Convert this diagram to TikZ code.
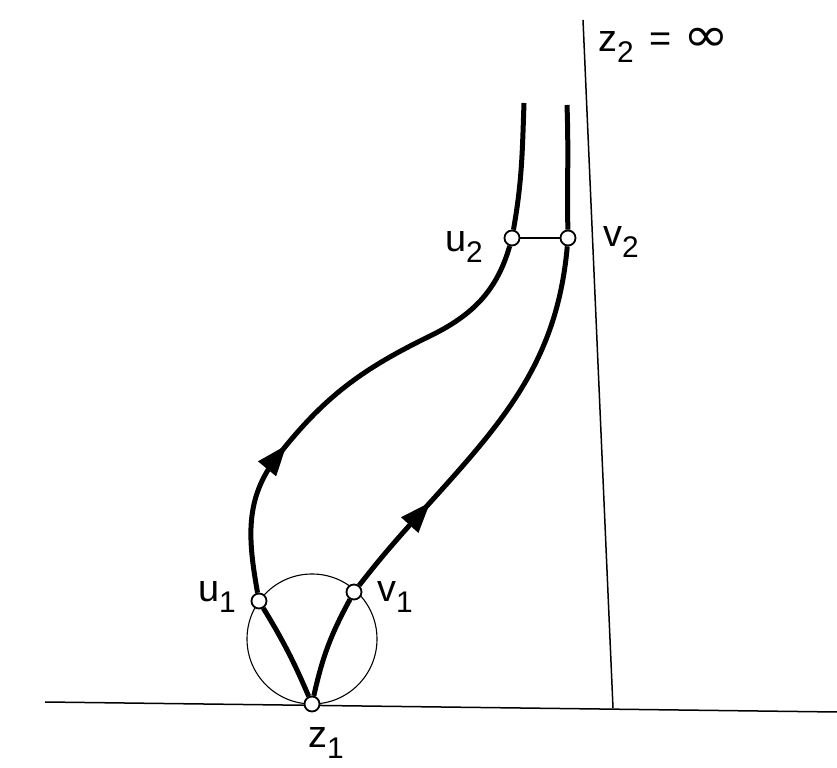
\documentclass[tikz,border=0pt]{standalone}
\usepackage{fontspec}
\setmainfont{Liberation Sans}
\newfontfamily\infont{DejaVu Sans}
\usepackage{tikz}
\usetikzlibrary{arrows.meta, positioning, decorations.markings}

\newcommand{\lowidx}[1]{\raisebox{-11bp}{\fontsize{30}{30}\selectfont #1}}

\begin{document}
\begin{tikzpicture}[x=1bp, y=1bp, font=\fontsize{38}{44}\selectfont,
    pt/.style={circle, draw, fill=white, line width=1.8bp, inner sep=0pt, minimum size=15bp},
    lbl/.style={inner sep=0pt},
    axis/.style={line width=1.5bp},
    thick path/.style={line width=5bp},
    fwd/.style={postaction={decorate}, decoration={markings,
        mark=at position #1 with {\arrow{Triangle[length=31bp,width=22bp]}}}}]
  \useasboundingbox (0,0) rectangle (837,768);

  % ---------- eixos e circulo ----------
  \draw[axis] (45,66) -- (837,56);
  \draw[axis] (583,748) -- (613,60);
  \draw[line width=1.1bp] (312,129) circle[radius=65bp];

  % ---------- pontos ----------
  \node[pt] (z1) at (312,64) {};
  \node[pt] (u1) at (259,167) {};
  \node[pt] (v1) at (354,176) {};
  \node[pt] (u2) at (512,530) {};
  \node[pt] (v2) at (568,530) {};
  \coordinate (a1) at (277,311);
  \coordinate (a2) at (430,432);
  \coordinate (b1) at (417,251);
  \coordinate (ut) at (524,665);
  \coordinate (vt) at (567,663);

  % ---------- caminhos ----------
  \draw[thick path] (z1) to[bend right=4] (u1);
  \draw[thick path] (z1) to[bend left=8] (v1);
  \draw[thick path, fwd=0.34] (u1) to[out=100,in=232] (a1)
       to[out=52,in=206] (a2) to[out=26,in=254] (u2);
  \draw[thick path, fwd=0.27] (v1) to[out=52,in=228] (b1)
       to[out=48,in=265] (v2);
  \draw[thick path] (u2) to[out=80,in=268] (ut);
  \draw[thick path] (v2) to[out=91,in=-88] (vt);
  \draw[line width=2bp] (u2) -- (v2);

  % ---------- rotulos ----------
  \node[lbl, anchor=base west] (lz1) at (308,20) {z\lowidx{1}};
  \node[lbl, anchor=base east] (lu1) at (236,166) {u\lowidx{1}};
  \node[lbl, anchor=base west] (lv1) at (377,166) {v\lowidx{1}};
  \node[lbl, anchor=base east] (lu2) at (483,516) {u\lowidx{2}};
  \node[lbl, anchor=base west] (lv2) at (603,521) {v\lowidx{2}};
  \node[lbl, anchor=base west] (lz2) at (598,716)
       {z\lowidx{2}\hspace{16bp}=\hspace{12bp}\scalebox{1.15}[1]{\infont\fontsize{48}{48}\selectfont ∞}};
\end{tikzpicture}
\end{document}
